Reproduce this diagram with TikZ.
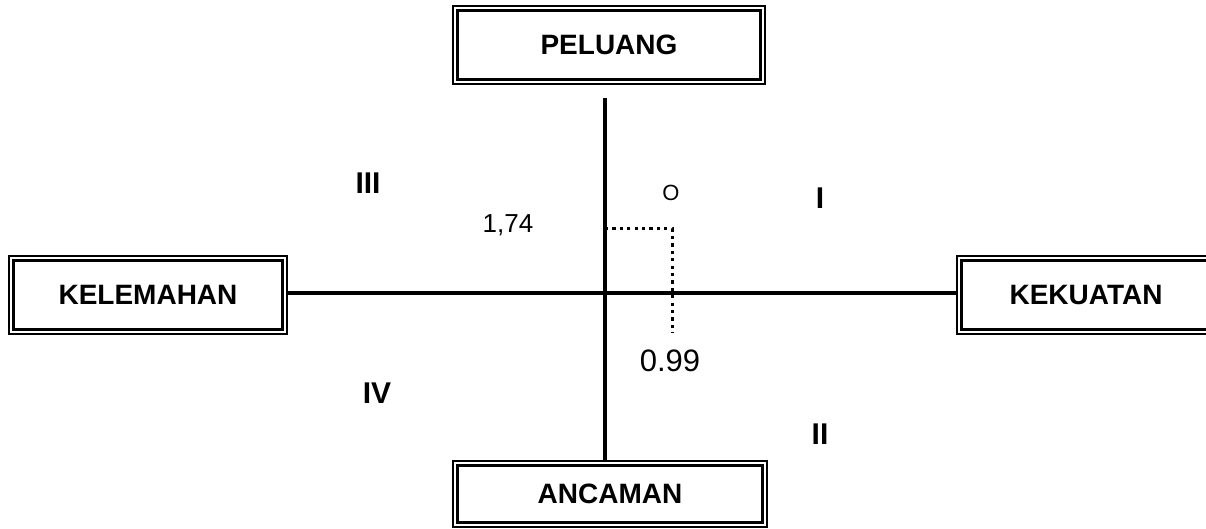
\documentclass[tikz,border=0pt]{standalone}
\usepackage{fontspec}
\setmainfont{Liberation Sans}
\usepackage{tikz}

\begin{document}
\begin{tikzpicture}[x=0.5pt,y=-0.5pt,
    kotak/.style={draw,line width=0.8pt,inner sep=0,font=\kotakfontsize\bfseries},
    kuadran/.style={inner sep=0,font=\kuadranfontsize\bfseries},
    angka/.style={inner sep=0}]
    \providecommand{\kotakfontsize}{\fontsize{14pt}{16pt}\selectfont}
    \providecommand{\kuadranfontsize}{\fontsize{15pt}{17pt}\selectfont}
    \pgfmathsetmacro{\frameshift}{5}  % gap between outer and inner frame
    \useasboundingbox (0,0) rectangle (1206,529);
    \clip (0,0) rectangle (1206,529);
    % the four boxes
    \node[kotak,minimum width=156pt,minimum height=39pt] (peluang) at (609,45) {PELUANG};
    \node[kotak,minimum width=139pt,minimum height=39pt] (kelemahan) at (148,295) {KELEMAHAN};
    \node[kotak,minimum width=129pt,minimum height=39pt] (kekuatan) at (1086,295) {KEKUATAN};
    \node[kotak,minimum width=157pt,minimum height=33pt] (ancaman) at (610,494) {ANCAMAN};
    \foreach \n in {peluang,kelemahan,kekuatan,ancaman}
        \draw[line width=1.6pt] ([shift={(\frameshift,\frameshift)}]\n.north west) rectangle ([shift={(-\frameshift,-\frameshift)}]\n.south east);
    % axes
    \coordinate (atas) at (605,98);
    \coordinate (pusat) at (605,293);
    \draw[line width=1.6pt] (atas) -- (atas |- ancaman.north);
    \draw[line width=1.6pt] (kelemahan.east |- pusat) -- (kekuatan.west |- pusat);
    % position of the point
    \coordinate (titik) at (672,229);
    \coordinate (ujung) at (672,333);
    \draw[line width=1.5pt,dash pattern=on 1.6pt off 2.1pt] (atas |- titik) -- (titik) -- (ujung);
    \node[angka,font=\fontsize{13pt}{15pt}\selectfont] (ypos) at (508,225) {1,74};
    \node[angka,font=\fontsize{15.5pt}{17pt}\selectfont] (xpos) at (670,361) {0.99};
    \node[angka,font=\fontsize{11pt}{13pt}\selectfont] (o) at (671,193) {O};
    % quadrants
    \node[kuadran] (q3) at (368,183) {III};
    \node[kuadran] (q1) at (820,198) {I};
    \node[kuadran] (q4) at (377,393) {IV};
    \node[kuadran] (q2) at (820,434) {II};
\end{tikzpicture}
\end{document}
